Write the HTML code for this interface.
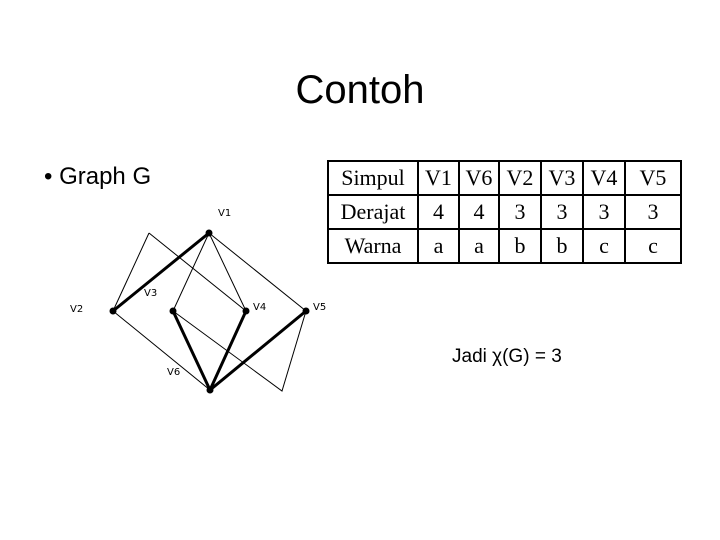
<html><head><style>
body{margin:0;width:720px;height:540px;background:#fff;position:relative;font-family:"Liberation Sans",sans-serif;overflow:hidden}
.t{position:absolute;white-space:nowrap}
table{position:absolute;left:327px;top:160px;border-collapse:collapse;font-family:"Liberation Serif",serif;font-size:22px}
td{border:2px solid #000;height:34px;padding:0;text-align:center}
</style></head><body>
<div class="t" style="left:0;width:720px;text-align:center;top:68px;font-size:40px">Contoh</div>
<div class="t" style="left:44px;top:163px;font-size:24px">• Graph G</div>
<table>
<tr><td style="width:88px">Simpul</td><td style="width:39px">V1</td><td style="width:38px">V6</td><td style="width:40px">V2</td><td style="width:40px">V3</td><td style="width:40px">V4</td><td style="width:54px">V5</td></tr>
<tr><td>Derajat</td><td>4</td><td>4</td><td>3</td><td>3</td><td>3</td><td>3</td></tr>
<tr><td>Warna</td><td>a</td><td>a</td><td>b</td><td>b</td><td>c</td><td>c</td></tr>
</table>
<div class="t" style="left:452px;top:346px;font-size:19px">Jadi χ(G) = 3</div>
<svg width="720" height="540" style="position:absolute;left:0;top:0">
<g stroke="#000" stroke-width="1" fill="none">
<path d="M149 233L113 311M149 233L246 311M209 233L173 311M209 233L246 311M209 233L306 311M113 311L210 390M173 311L282 391L306 311"/>
</g>
<g stroke="#000" stroke-width="3" fill="none">
<path d="M209 233L113 311M173 311L210 390L246 311M210 390L306 311"/>
</g>
<g fill="#000">
<circle cx="209" cy="233" r="3.5"/><circle cx="113" cy="311" r="3.5"/><circle cx="173" cy="311" r="3.5"/><circle cx="246" cy="311" r="3.5"/><circle cx="306" cy="311" r="3.5"/><circle cx="210" cy="390" r="3.5"/>
</g>
<g font-family="DejaVu Sans" font-size="10" fill="#000">
<text x="218" y="216">V1</text><text x="70" y="312">V2</text><text x="144" y="296">V3</text><text x="253" y="310">V4</text><text x="313" y="310">V5</text><text x="167" y="375">V6</text>
</g>
</svg>
</body></html>
